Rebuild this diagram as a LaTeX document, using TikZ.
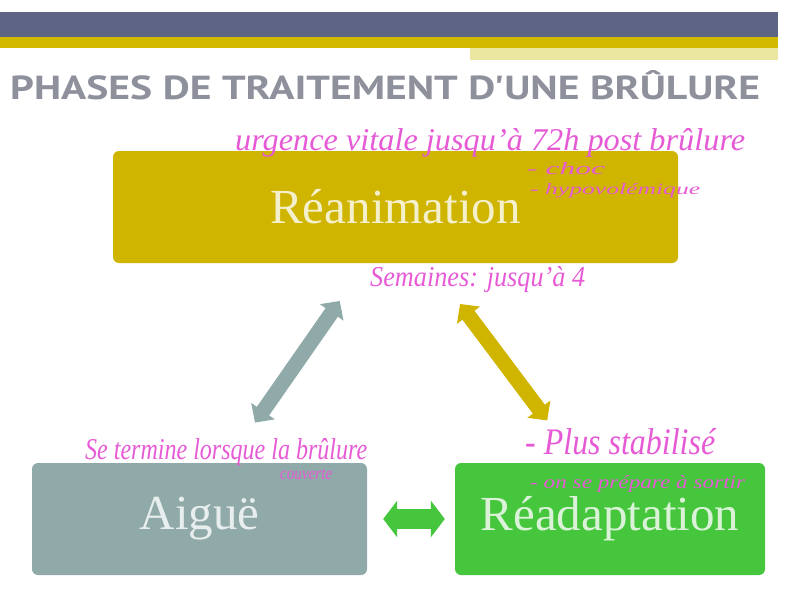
\documentclass[tikz,border=0pt]{standalone}
\usepackage{fontspec}
\setmainfont{Liberation Serif}
\newfontfamily\titlefont{PT Sans}
\usetikzlibrary{arrows.meta,positioning}
\definecolor{bandDark}{HTML}{5E6484}
\definecolor{bandGold}{HTML}{D2BA00}
\definecolor{bandPale}{HTML}{ECE7A0}
\definecolor{titleGray}{HTML}{8E909C}
\definecolor{phaseGold}{HTML}{CFB400}
\definecolor{phaseTeal}{HTML}{8FAAA8}
\definecolor{phaseGreen}{HTML}{46C63C}
\definecolor{notePink}{HTML}{E65AD6}
\newcommand{\hand}[3]{\resizebox{#1}{#2}{\itshape #3}}
\tikzset{every picture/.style={
  >=Triangle                    % Plain triangle tips.
  }
}

\begin{document}
\begin{tikzpicture}[
    x=1pt, y=-1pt,
    phase/.style={
      rectangle,
      rounded corners=6pt,
      fill=#1,
      minimum height=112pt,
      text=white,
      text opacity=0.8,
      font=\fontsize{49}{52}\selectfont,
      inner sep=0pt
    },
    fat/.style={
      draw=#1,
      line width=15pt,
      {Triangle[width=28pt,length=14pt]}-{Triangle[width=28pt,length=14pt]}
    },
    note/.style={
      text=notePink,
      inner sep=0pt,
      anchor=north west
    }]

    \useasboundingbox (0,0) rectangle (792,613);

    % Draw the header bands.
    \fill[bandDark] (0,12) rectangle (778,37);
    \fill[bandGold] (0,37) rectangle (778,48);
    \fill[bandPale] (470,48) rectangle (778,60);

    % Title of the slide.
    \node[anchor=west,inner sep=0pt,text=titleGray,
      font=\titlefont\bfseries\fontsize{34}{38}\selectfont] (title)
      at (10,85) {\resizebox{750pt}{29pt}{PHASES DE TRAITEMENT D'UNE BRÛLURE}};

    % The three phases.
    \node[phase=phaseGold,minimum width=565pt] (rea) at (395.5,207)
      {Réanimation};
    \node[phase=phaseTeal,minimum width=335pt] (aig) at (199.5,519)
      {Aiguë};
    \node[phase=phaseGreen,minimum width=310pt] (read) at (610,519)
      {Réadaptation};

    % Links between the phases.
    \draw[fat=phaseTeal,shorten <=46pt,shorten >=49pt]
      ([xshift=-29.5pt] rea.south) -- ([xshift=27.5pt] aig.north);
    \draw[fat=phaseGold,shorten <=51pt,shorten >=53pt]
      ([xshift=34pt] rea.south) -- ([xshift=-31pt] read.north);
    \draw[fat=phaseGreen,line width=20pt,
      {Triangle[width=36pt,length=14pt]}-{Triangle[width=36pt,length=14pt]},
      shorten <=16pt,shorten >=10pt] (aig.east) -- (read.west);

    % Handwritten notes.
    \node[note] (n1) at (235,128)
      {\hand{510pt}{22pt}{urgence vitale jusqu'à 72h post brûlure}};
    \node[note] (n2) at (527,162) {\hand{78pt}{12pt}{- choc}};
    \node[note] (n3) at (530,183) {\hand{170pt}{11pt}{- hypovolémique}};
    \node[note] (n4) at (370,266)
      {\hand{215pt}{20pt}{Semaines: jusqu'à 4}};
    \node[note] (n5) at (85,438)
      {\hand{282pt}{21pt}{Se termine lorsque la brûlure}};
    \node[note] (n6) at (280,469) {\hand{52pt}{10pt}{couverte}};
    \node[note] (n7) at (525,428) {\hand{190pt}{26pt}{- Plus stabilisé}};
    \node[note] (n8) at (530,475)
      {\hand{215pt}{13pt}{- on se prépare à sortir}};
  \end{tikzpicture}
\end{document}
